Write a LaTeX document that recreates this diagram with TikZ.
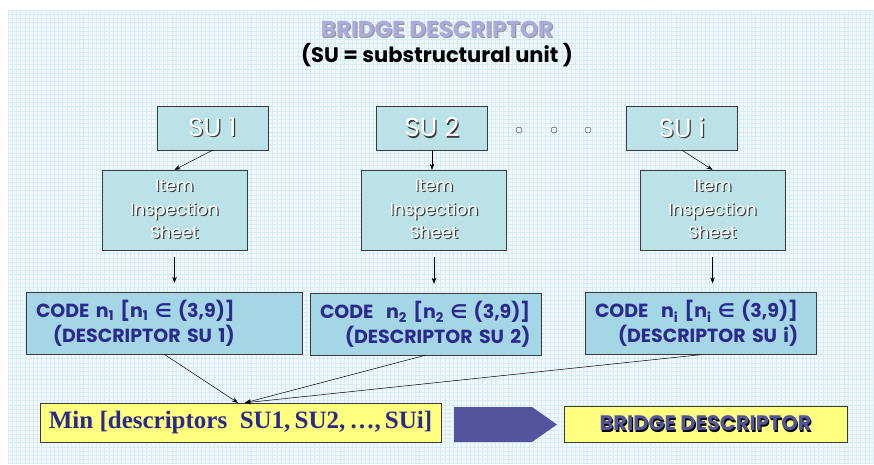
\documentclass[tikz,border=0pt]{standalone}
\usepackage{fontspec}
\setmainfont{Poppins}
\newfontfamily\timesbold{Liberation Serif}
\newfontfamily\symbfont{DejaVu Sans}
\usepackage{xcolor}
\usetikzlibrary{arrows.meta,shadows}

\definecolor{gridbg}{RGB}{241,248,251}
\definecolor{gridline}{RGB}{216,236,245}
\definecolor{sufill}{RGB}{187,226,230}
\definecolor{codefill}{RGB}{164,214,230}
\definecolor{navy}{RGB}{42,42,140}
\definecolor{lavender}{RGB}{170,170,222}
\definecolor{arrowblue}{RGB}{82,84,158}
\definecolor{noteyellow}{RGB}{255,255,128}
\definecolor{edgegray}{RGB}{60,60,60}

% text with a small cast shadow: {text colour}{shadow colour}{text}
\newcommand{\castshadow}[3]{\makebox[0pt][l]{\kern1.2pt\raisebox{-1.2pt}{\textcolor{#2}{#3}}}\textcolor{#1}{#3}}
\newcommand{\emb}[1]{\castshadow{white}{edgegray}{#1}}
\newcommand{\elem}{{\symbfont\bfseries ∈}}

\begin{document}
\begin{tikzpicture}[x=1pt, y=-1pt,
    subox/.style={draw=edgegray, fill=sufill, minimum width=111pt, minimum height=44pt, inner sep=0pt, font=\fontsize{26}{30}\selectfont},
    itembox/.style={draw=edgegray, fill=sufill, minimum width=145pt, minimum height=80pt, inner sep=0pt, align=center, font=\fontsize{17}{23.5}\selectfont},
    codebox/.style={draw=edgegray, fill=codefill, minimum height=62pt, inner xsep=10pt, inner ysep=0pt, align=left, text=navy, font=\bfseries\fontsize{19}{25}\selectfont},
    yellowbox/.style={draw=edgegray, fill=noteyellow, inner sep=0pt, drop shadow={shadow xshift=1.2pt, shadow yshift=-1.2pt, opacity=0.45, fill=black}},
    link/.style={-{Stealth[length=6pt, width=4.5pt]}, black, line width=0.5pt},
    dot/.style={circle, draw=edgegray, minimum size=6pt, inner sep=0pt}
]
\useasboundingbox (0,0) rectangle (874,464);

% squared paper
\fill[gridbg] (8,10) rectangle (874,464);
\foreach \gx in {8,12.2,...,874} {
    \draw[gridline, line width=0.3pt] (\gx,10) -- (\gx,464);
}
\foreach \gy in {10,14.2,...,464} {
    \draw[gridline, line width=0.3pt] (8,\gy) -- (874,\gy);
}

% heading
\node[font=\bfseries\fontsize{23}{26}\selectfont] (title) at (437,30) {\castshadow{lavender}{black!40}{BRIDGE DESCRIPTOR}};
\node[font=\bfseries\fontsize{21}{24}\selectfont] (subtitle) at (437,55) {(SU = substructural unit )};

% substructural units
\node[subox] (su1) at (212.5,128) {\emb{SU 1}};
\node[subox] (su2) at (432,128) {\emb{SU 2}};
\node[subox] (sui) at (682,128) {\emb{SU i}};
\foreach \dx [count=\k] in {519,554,588} {
    \node[dot] (dot\k) at (\dx,130) {};
}

% inspection sheets
\node[itembox] (item1) at (174.5,210) {\emb{Item}\\\emb{Inspection}\\\emb{Sheet}};
\node[itembox] (item2) at (434,210) {\emb{Item}\\\emb{Inspection}\\\emb{Sheet}};
\node[itembox] (itemi) at (712.5,210) {\emb{Item}\\\emb{Inspection}\\\emb{Sheet}};

% codes
\node[codebox, text width=256pt] (code1) at (164,323)
    {CODE n\textsubscript{1} [n\textsubscript{1} \elem{} (3,9)]\\\hspace*{17pt}(DESCRIPTOR SU 1)};
\node[codebox, text width=211pt] (code2) at (425.5,324)
    {CODE\ \ n\textsubscript{2} [n\textsubscript{2} \elem{} (3,9)]\\\hspace*{25pt}(DESCRIPTOR SU 2)};
\node[codebox, text width=211pt] (codei) at (700.5,323.5)
    {CODE\ \ n\textsubscript{i} [n\textsubscript{i} \elem{} (3,9)]\\\hspace*{23pt}(DESCRIPTOR SU i)};

% result
\node[yellowbox, minimum width=401pt, minimum height=39pt, text=navy, font=\timesbold\bfseries\fontsize{25}{28}\selectfont] (minbox) at (240.5,422.5)
    {Min [descriptors\ \ SU1,\,SU2,\,\dots,\,SUi]};
\node[yellowbox, minimum width=283pt, minimum height=36pt, font=\bfseries\fontsize{21}{24}\selectfont] (bridge) at (705.5,424)
    {\castshadow{arrowblue}{black}{BRIDGE DESCRIPTOR}};
\fill[arrowblue] (454,407) -- (532,407) -- (557,424.5) -- (532,442) -- (454,442) -- cycle;

% connectors
\draw[link] (su1.south) -- (item1.north);
\draw[link] (su2.south) -- (su2.south |- item2.north);
\draw[link] (sui.south) -- (itemi.north);
\foreach \s in {1,2,i} {
    \draw[link, shorten <=7pt, shorten >=9pt] (item\s.south) -- (item\s.south |- code\s.north);
}
\draw[link] (code1.south) -- ([xshift=-2.5pt]minbox.north);
\draw[link] (code2.south) -- ([xshift=4.5pt]minbox.north);
\draw[link] (codei.south) -- ([xshift=4.5pt]minbox.north);
\end{tikzpicture}
\end{document}
